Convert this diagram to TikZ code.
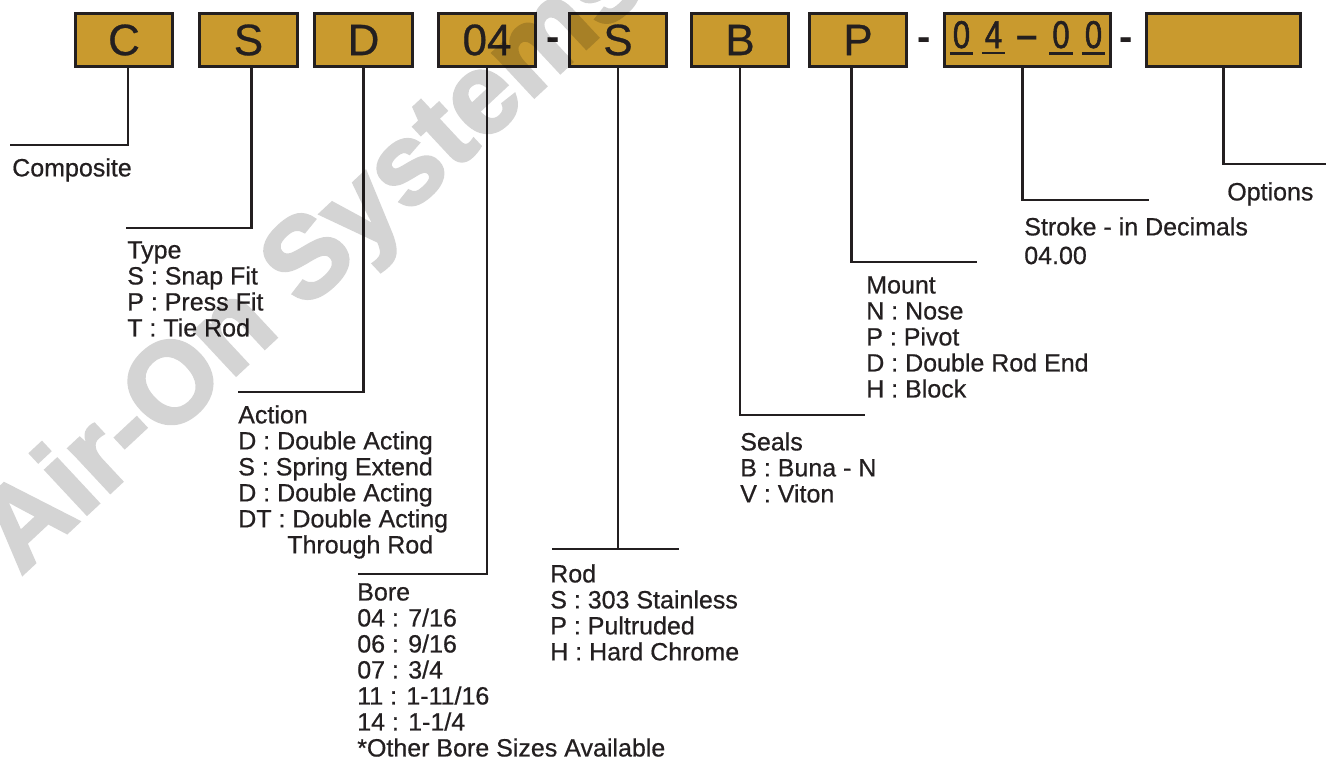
\documentclass[tikz,border=0pt]{standalone}
\usepackage{fontspec}
\setmainfont{Liberation Sans}
\newfontfamily\labelfont[FakeBold=0.6]{Liberation Sans}
\newfontfamily\narrowfont[FakeStretch=0.8,FakeBold=1.5]{Liberation Sans}
\newfontfamily\wmfont[FakeBold=2.5]{Liberation Sans Bold}
\usetikzlibrary{positioning}
\definecolor{gold}{RGB}{201,154,46}
\definecolor{ink}{RGB}{35,31,32}

\begin{document}
\begin{tikzpicture}[x=0.75pt,y=-0.75pt,
    box/.style={draw=ink,fill=gold,line width=2.2pt,minimum height=40pt,inner sep=0pt,text=ink,font=\fontsize{33pt}{36pt}\labelfont},
    hyph/.style={anchor=base,text=ink,font=\fontsize{30pt}{30pt}\selectfont\bfseries},
    digit/.style={anchor=base,text=ink,inner xsep=0pt,inner ysep=3.75pt,minimum width=17pt,font=\fontsize{29pt}{30pt}\narrowfont},
    lead/.style={draw=ink,line width=2.2pt},
    lbl/.style={anchor=north west,inner sep=0pt,align=left,text=ink,font=\fontsize{18.75pt}{19.5pt}\labelfont}]
    \useasboundingbox (0,0) rectangle (1326,760);
    % part number boxes
    \node[box,minimum width=73pt] (c) at (124,40) {C};
    \node[box,minimum width=73.5pt] (s) at (248.5,40) {S};
    \node[box,minimum width=73.5pt] (d) at (363.5,40) {D};
    \node[box,minimum width=73pt] (bore) at (487,40) {04};
    \node[box,minimum width=73pt] (rod) at (618,40) {S};
    \node[box,minimum width=73pt] (b) at (740,40) {B};
    \node[box,minimum width=73pt] (p) at (858,40) {P};
    \node[box,minimum width=124.5pt] (stroke) at (1027.5,40) {};
    \node[box,minimum width=115.5pt] (opt) at (1223.5,40) {};
    \node[hyph] (h1) at (553,50) {-};
    \node[hyph] (h2) at (924,50) {-};
    \node[hyph] (h3) at (1126,50) {-};
    % stroke digits
    \node[digit] (n1) at (961.5,48) {0};
    \node[digit] (n2) at (993.5,48) {4};
    \node[anchor=base,text=ink,font=\fontsize{29pt}{30pt}\selectfont\bfseries] (n3) at (1027.5,48) {–};
    \node[digit] (n4) at (1061,48) {0};
    \node[digit] (n5) at (1093.5,48) {0};
    \foreach \n in {n1,n2,n4,n5}
        \draw[ink,line width=1.8pt] (\n.south west) -- (\n.south east);
    % leader ends
    \coordinate (cEnd) at (10,145);
    \coordinate (sEnd) at (126,228);
    \coordinate (dEnd) at (238,392);
    \coordinate (boreEnd) at (358,574);
    \coordinate (rodL) at (552,549);
    \coordinate (rodR) at (679,549);
    \coordinate (bEnd) at (865,415);
    \coordinate (pEnd) at (977,262);
    \coordinate (strokeEnd) at (1149,200);
    \coordinate (optEnd) at (1326,164);
    \draw[lead] ([xshift=3pt]c.south) |- (cEnd);
    \draw[lead] ([xshift=2pt]s.south) |- (sEnd);
    \draw[lead] (d.south) |- (dEnd);
    \draw[lead] (bore.south) |- (boreEnd);
    \draw[lead] (rod.south) -- (rod.south |- rodL);
    \draw[lead] (rodL) -- (rodR);
    \draw[lead] (b.south) |- (bEnd);
    \draw[lead] ([xshift=-5pt]p.south) |- (pEnd);
    \draw[lead] ([xshift=-4pt]stroke.south) |- (strokeEnd);
    \draw[lead] (opt.south) |- (optEnd);
    % labels
    \node[lbl] (comp) at (12,158) {Composite};
    \node[lbl] (type) at (127,241) {Type\\S : Snap Fit\\P : Press Fit\\T : Tie Rod};
    \node[lbl] (action) at (238,405) {Action\\D : Double Acting\\S : Spring Extend\\D : Double Acting\\DT : Double Acting\\\hspace*{36.75pt}Through Rod};
    \node[lbl] (boreLbl) at (357,583) {Bore\\04 : 7/16\\06 : 9/16\\07 : 3/4\\11 : 1-11/16\\14 : 1-1/4\\*Other Bore Sizes Available};
    \node[lbl] (rodLbl) at (550,564) {Rod\\S : 303 Stainless\\P : Pultruded\\H : Hard Chrome};
    \node[lbl] (seals) at (740,432) {Seals\\B : Buna - N\\V : Viton};
    \node[lbl] (mount) at (866,276) {Mount\\N : Nose\\P : Pivot\\D : Double Rod End\\H : Block};
    \node[lbl] (strokeLbl) at (1024,217) {Stroke - in Decimals\\[2pt]04.00};
    \node[lbl] (options) at (1227,182) {Options};
    % watermark
    \begin{scope}[transparency group,opacity=.17]
        \node[rotate=43,font=\fontsize{86pt}{88pt}\wmfont] (wm) at (315,261) {Air-On Systems};
    \end{scope}
\end{tikzpicture}
\end{document}
